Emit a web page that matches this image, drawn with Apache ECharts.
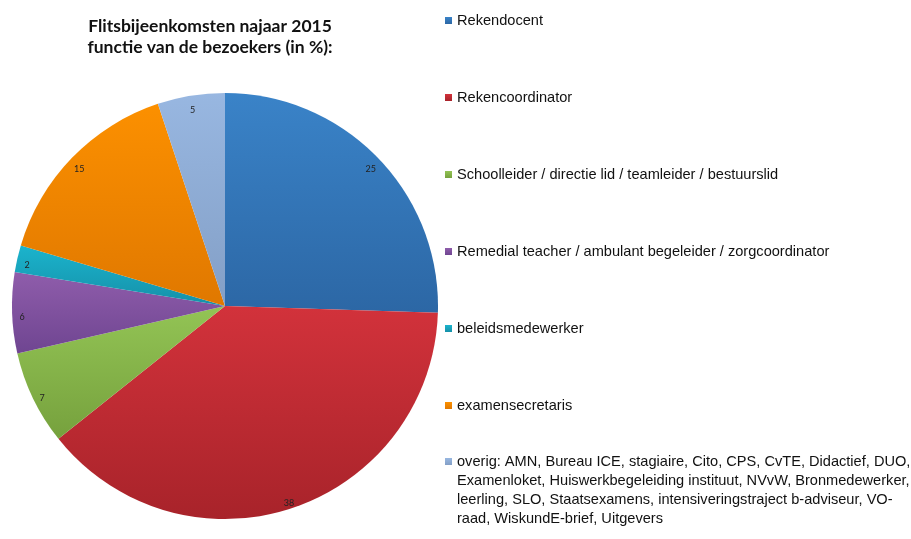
<!DOCTYPE html>
<html>
<head>
<meta charset="utf-8">
<script src="https://cdn.jsdelivr.net/npm/echarts@6/dist/echarts.min.js"></script>
<style>
  html, body { margin: 0; padding: 0; background: #fff; }
  #chart { width: 911px; height: 539px; }
</style>
</head>
<body>
<div id="chart"></div>
<script>
// categorieen en percentages
const categories = [
  'Rekendocent',
  'Rekencoordinator',
  'Schoolleider / directie lid / teamleider / bestuurslid',
  'Remedial teacher / ambulant begeleider / zorgcoordinator',
  'beleidsmedewerker',
  'examensecretaris',
  'overig: AMN, Bureau ICE, stagiaire, Cito, CPS, CvTE, Didactief, DUO,\nExamenloket, Huiswerkbegeleiding instituut, NVvW, Bronmedewerker,\nleerling, SLO, Staatsexamens, intensiveringstraject b-adviseur, VO-\nraad, WiskundE-brief, Uitgevers'
]
const values = [25, 38, 7, 6, 2, 15, 5]
// kleur boven / onder (verloop zoals Excel)
const colorsTop = ['#3a83c8', '#d2323b', '#93c455', '#8f5dab', '#1bb4cd', '#fc9000', '#98b7e1']
const colorsBottom = ['#2c67a5', '#a8232a', '#76a13d', '#6f4591', '#1590a8', '#e07800', '#839fc6']

const chart = echarts.init(document.getElementById('chart'))

const grad = (i) => new echarts.graphic.LinearGradient(0, 0, 0, 1, [
  { offset: 0, color: colorsTop[i] },
  { offset: 1, color: colorsBottom[i] }
])

const pieData = categories.map((name, i) => ({
  name,
  value: values[i],
  itemStyle: { color: grad(i) }
}))

const sansFont = '"Liberation Sans", Arial, sans-serif'

const legendText = {
  fontFamily: sansFont,
  fontSize: 14.6,
  color: '#111',
  lineHeight: 19
}

const option = {
  animation: false,
  textStyle: { fontFamily: sansFont },
  title: {
    text: 'Flitsbijeenkomsten najaar 2015\nfunctie van de bezoekers (in %):',
    left: 205,
    top: 11,
    textAlign: 'center',
    textStyle: {
      fontFamily: 'Lato',
      fontSize: 17.5,
      fontWeight: 'bold',
      color: '#111',
      lineHeight: 21
    }
  },
  legend: [
    {
      orient: 'vertical',
      left: 440,
      top: 6,
      icon: 'rect',
      itemWidth: 7,
      itemHeight: 7,
      itemGap: 58,
      selectedMode: false,
      data: categories.slice(0, 6),
      textStyle: legendText
    },
    {
      // laatste item: tekst begint op hoogte van het icoon
      orient: 'vertical',
      left: 440,
      top: 390,
      icon: 'rect',
      itemWidth: 7,
      itemHeight: 7,
      selectedMode: false,
      data: categories.slice(6),
      formatter: (name) => '\n\n\n' + name,
      textStyle: legendText
    }
  ],
  series: [
    {
      name: 'bezoekers',
      type: 'pie',
      center: [225, 306],
      radius: [0, 213],
      startAngle: 90,
      clockwise: true,
      avoidLabelOverlap: false,
      label: { show: false },
      labelLine: { show: false },
      itemStyle: { borderWidth: 0 },
      emphasis: { disabled: true },
      data: pieData
    },
    {
      // alleen voor de labels bij de buitenrand
      name: 'labels',
      type: 'pie',
      center: [225, 306],
      radius: [187, 213],
      startAngle: 90,
      clockwise: true,
      silent: true,
      avoidLabelOverlap: false,
      itemStyle: { color: 'rgba(0,0,0,0)', borderWidth: 0 },
      emphasis: { disabled: true },
      label: {
        show: true,
        position: 'inside',
        // lege regel erboven schuift het getal iets omlaag
        formatter: '\n{c}',
        fontFamily: 'Lato',
        fontSize: 9,
        lineHeight: 9,
        color: '#222'
      },
      labelLine: { show: false },
      data: categories.map((name, i) => ({ name, value: values[i] }))
    }
  ]
}

chart.setOption(option)
</script>
</body>
</html>
